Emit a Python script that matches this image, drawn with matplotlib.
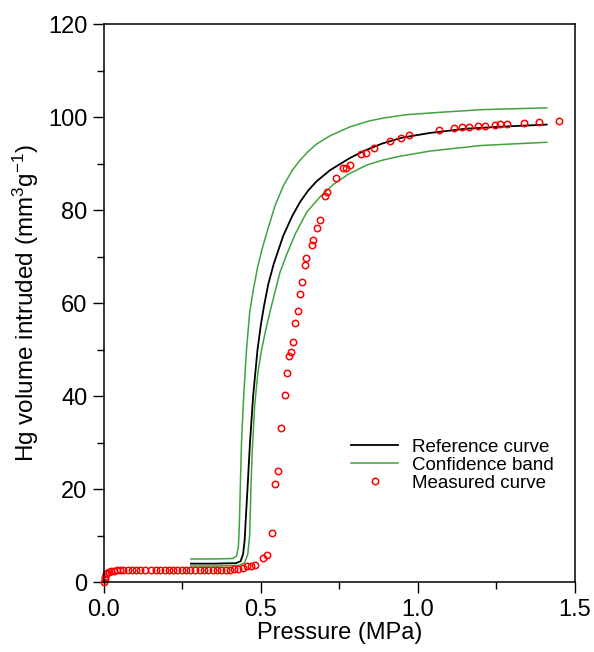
import numpy as np
import matplotlib
matplotlib.use("Agg")
import matplotlib.pyplot as plt
from matplotlib.ticker import MultipleLocator, FormatStrFormatter
from matplotlib.legend_handler import HandlerLine2D

plt.rcParams['font.family'] = ['Liberation Sans', 'DejaVu Sans']
plt.rcParams['mathtext.fontset'] = 'custom'
plt.rcParams['mathtext.rm'] = 'Liberation Sans'
plt.rcParams['mathtext.it'] = 'Liberation Sans:italic'

# reference curve (black)
ref_p = [0.277, 0.35, 0.42, 0.435, 0.443, 0.448, 0.452, 0.457, 0.465, 0.475, 0.489,
         0.500, 0.510, 0.523, 0.540, 0.555, 0.571, 0.600, 0.624, 0.650, 0.677, 0.720,
         0.783, 0.830, 0.885, 0.950, 1.038, 1.150, 1.280, 1.41]
ref_v = [4.0, 4.0, 4.1, 4.5, 6.0, 9.0, 14.0, 20.0, 30.0, 40.0, 50.0,
         55.5, 59.5, 64.0, 68.3, 71.3, 74.5, 78.8, 81.7, 84.2, 86.2, 88.6,
         91.2, 92.8, 94.3, 95.6, 96.6, 97.5, 98.0, 98.4]

# confidence band, upper and lower
up_p = [0.277, 0.35, 0.41, 0.422, 0.428, 0.431, 0.434, 0.438, 0.445, 0.454, 0.464,
        0.476, 0.490, 0.505, 0.520, 0.545, 0.571, 0.600, 0.624, 0.650, 0.677, 0.720,
        0.783, 0.840, 0.889, 0.960, 1.040, 1.200, 1.41]
up_v = [5.0, 5.0, 5.1, 5.6, 7.5, 12.0, 20.0, 30.0, 40.0, 50.0, 58.0,
        63.0, 68.0, 72.0, 75.5, 81.0, 85.2, 88.6, 90.7, 92.6, 94.2, 96.0,
        97.9, 99.1, 99.8, 100.5, 100.9, 101.6, 102.0]
lo_p = [0.277, 0.35, 0.43, 0.448, 0.458, 0.464, 0.468, 0.472, 0.480, 0.490, 0.502,
        0.516, 0.530, 0.545, 0.560, 0.582, 0.610, 0.646, 0.690, 0.730, 0.780, 0.837,
        0.890, 0.943, 1.038, 1.200, 1.41]
lo_v = [3.5, 3.5, 3.6, 4.2, 6.0, 10.0, 20.0, 28.0, 38.0, 45.0, 50.0,
        54.5, 58.5, 62.5, 66.5, 70.5, 75.0, 79.6, 83.0, 85.5, 87.8, 89.7,
        90.8, 91.6, 92.7, 93.9, 94.6]

# measured curve (red circles)
meas_p = [0.000, 0.002, 0.004, 0.007, 0.011, 0.017, 0.023, 0.031, 0.040, 0.050,
          0.062, 0.075, 0.088, 0.102, 0.116, 0.130, 0.150, 0.165, 0.180, 0.193,
          0.207, 0.220, 0.234, 0.248, 0.262, 0.275, 0.290, 0.305, 0.318, 0.332,
          0.346, 0.360, 0.374, 0.388, 0.400, 0.414, 0.428, 0.442, 0.456, 0.468,
          0.480, 0.507, 0.518, 0.535, 0.545, 0.555, 0.565, 0.576, 0.584, 0.590,
          0.596, 0.602, 0.609, 0.617, 0.624, 0.630, 0.640, 0.644, 0.662, 0.666,
          0.680, 0.688, 0.703, 0.711, 0.740, 0.760, 0.770, 0.782, 0.820, 0.833,
          0.861, 0.912, 0.946, 0.973, 1.068, 1.115, 1.140, 1.161, 1.192, 1.214,
          1.245, 1.261, 1.282, 1.337, 1.385, 1.449]
meas_v = [0.0, 0.6, 1.2, 1.7, 2.0, 2.2, 2.35, 2.5, 2.55, 2.6,
          2.6, 2.65, 2.65, 2.7, 2.7, 2.7, 2.7, 2.7, 2.7, 2.7,
          2.7, 2.7, 2.7, 2.7, 2.7, 2.7, 2.7, 2.7, 2.7, 2.7,
          2.7, 2.7, 2.7, 2.7, 2.7, 2.75, 2.8, 3.1, 3.4, 3.5,
          3.8, 5.2, 5.8, 10.5, 21.1, 24.0, 33.1, 40.2, 44.9, 48.6,
          49.5, 51.7, 55.8, 58.3, 61.9, 64.5, 68.2, 69.7, 72.5, 73.5,
          76.1, 77.8, 83.0, 83.9, 86.9, 89.0, 89.1, 89.8, 92.0, 92.2,
          93.3, 94.8, 95.5, 96.1, 97.2, 97.6, 97.8, 97.9, 98.2, 98.2,
          98.4, 98.5, 98.6, 98.8, 99.0, 99.2]

green = '#3fa33f'


class LeftMarkerHandler(HandlerLine2D):
    # put the single legend marker at the left end of the handle
    def get_xdata(self, legend, xdescent, ydescent, width, height, fontsize):
        xdata = np.array([-xdescent, -xdescent + width])
        return xdata, np.array([-xdescent + 0.08 * width])


fig = plt.figure(figsize=(5.94, 6.52), dpi=100)
ax = fig.add_axes([0.175, 0.107, 0.793, 0.856])

ax.plot(ref_p, ref_v, color='k', lw=1.3, label='Reference curve')
ax.plot(up_p, up_v, color=green, lw=1.1, label='Confidence band')
ax.plot(lo_p, lo_v, color=green, lw=1.1)
meas, = ax.plot(meas_p, meas_v, ls='none', marker='o', ms=4.6, mfc='none',
                mec='red', mew=1.1, label='Measured curve', clip_on=False)

ax.set_xlim(0, 1.5)
ax.set_ylim(0, 120)
ax.xaxis.set_major_locator(MultipleLocator(0.5))
ax.xaxis.set_minor_locator(MultipleLocator(0.25))
ax.xaxis.set_major_formatter(FormatStrFormatter('%.1f'))
ax.yaxis.set_major_locator(MultipleLocator(20))
ax.yaxis.set_minor_locator(MultipleLocator(10))
ax.tick_params(which='major', direction='out', length=8, width=1, labelsize=17, pad=4)
ax.tick_params(which='minor', direction='out', length=5, width=1)
for s in ax.spines.values():
    s.set_linewidth(1.1)

ax.set_xlabel('Pressure (MPa)', fontsize=17, labelpad=1)
ax.set_ylabel('Hg volume intruded (mm$^3$g$^{-1}$)', fontsize=17.5, labelpad=5)

ax.legend(loc='center left', bbox_to_anchor=(0.505, 0.210), frameon=False,
          fontsize=13.5, borderpad=0, handlelength=2.5, handletextpad=0.75,
          labelspacing=0.05, handler_map={meas: LeftMarkerHandler(numpoints=1)})

fig.savefig('out.png', dpi=100)
